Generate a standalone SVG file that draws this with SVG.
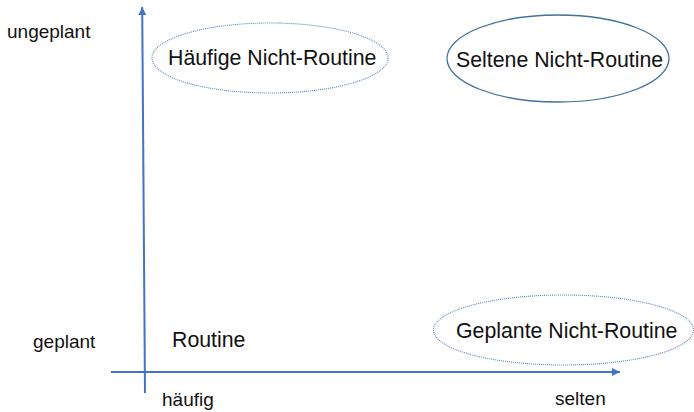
<svg xmlns="http://www.w3.org/2000/svg" width="694" height="412" viewBox="0 0 694 412">
<style>
.lbl{font-family:"Liberation Sans",Arial,sans-serif;fill:#111;}
.ax{font-size:19px;}
.nd{font-size:21.3px;}
.dotted{fill:none;stroke:#5b82b8;stroke-width:1.1;stroke-dasharray:1 1;}
.solid{fill:none;stroke:#41719c;stroke-width:1.3;}
.axis{stroke:#4472c4;stroke-width:2;fill:none;}
</style>
<defs>
<marker id="arr" viewBox="0 0 10 10" refX="10" refY="5" markerWidth="4" markerHeight="4" orient="auto" markerUnits="strokeWidth">
<path d="M0,0 L10,5 L0,10 z" fill="#4472c4"/>
</marker>
</defs>
<rect width="694" height="412" fill="#fff"/>
<g id="connectors">
<line class="axis" x1="145" y1="393" x2="142.2" y2="7" marker-end="url(#arr)"/>
<line class="axis" x1="111" y1="372" x2="620" y2="372" marker-end="url(#arr)"/>
</g>
<g id="axis-labels">
<text class="lbl ax" x="7" y="38">ungeplant</text>
<text class="lbl ax" x="33" y="348">geplant</text>
<text class="lbl ax" x="162" y="406">häufig</text>
<text class="lbl ax" x="555" y="405">selten</text>
</g>
<g id="haeufige-nicht-routine">
<ellipse class="dotted" cx="270" cy="58" rx="118" ry="35"/>
<text class="lbl nd" x="168" y="65">Häufige Nicht-Routine</text>
</g>
<g id="seltene-nicht-routine">
<ellipse class="solid" cx="558" cy="58.5" rx="111" ry="43.5"/>
<text class="lbl nd" x="456" y="66.5">Seltene Nicht-Routine</text>
</g>
<g id="geplante-nicht-routine">
<ellipse class="dotted" cx="563.5" cy="330" rx="130" ry="35"/>
<text class="lbl nd" x="456" y="337.5">Geplante Nicht-Routine</text>
</g>
<g id="routine">
<text class="lbl nd" x="172" y="347">Routine</text>
</g>
</svg>
